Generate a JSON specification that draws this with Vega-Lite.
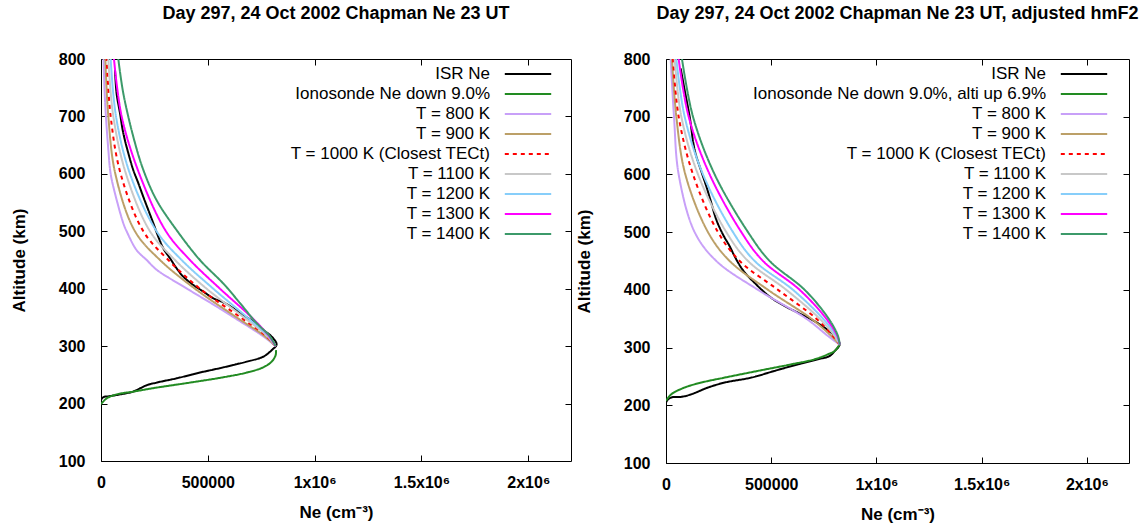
{
  "$schema": "https://vega.github.io/schema/vega-lite/v6.json",
  "padding": {"left": 9, "top": 4, "right": 0, "bottom": 0},
  "background": "white",
  "config": {
    "font": "Liberation Sans",
    "view": {"stroke": "#000", "strokeWidth": 1},
    "axis": {"grid": false, "domain": false, "tickColor": "#000", "tickSize": -6, "labelFont": "Liberation Sans", "labelFontWeight": "bold", "labelFontSize": 16, "labelColor": "#000", "titleFont": "Liberation Sans", "titleFontWeight": "bold", "titleFontSize": 17, "titleColor": "#000"},
    "title": {"font": "Liberation Sans", "fontSize": 18, "fontWeight": "bold", "color": "#000", "offset": 28},
    "legend": {"labelFont": "Liberation Sans", "labelFontSize": 17, "labelColor": "#000", "labelAlign": "right", "labelOffset": -47, "labelLimit": 600, "symbolType": "M-2.9,0L2.9,0", "symbolSize": 256, "rowPadding": 3, "padding": 0, "symbolOffset": 0}
  },
  "datasets": {
    "L": [
      {"s":"ISR Ne","ne":0,"alt":100},{"s":"ISR Ne","ne":0,"alt":206},{"s":"ISR Ne","ne":10900,"alt":211},{"s":"ISR Ne","ne":42000,"alt":213},{"s":"ISR Ne","ne":90000,"alt":216},{"s":"ISR Ne","ne":151000,"alt":221},{"s":"ISR Ne","ne":214000,"alt":232},{"s":"ISR Ne","ne":260000,"alt":236.5},{"s":"ISR Ne","ne":354000,"alt":244},{"s":"ISR Ne","ne":463000,"alt":254},{"s":"ISR Ne","ne":572600,"alt":263},{"s":"ISR Ne","ne":682000,"alt":273},{"s":"ISR Ne","ne":760000,"alt":281.7},{"s":"ISR Ne","ne":799000,"alt":293},{"s":"ISR Ne","ne":822000,"alt":303},{"s":"ISR Ne","ne":799000,"alt":316.6},{"s":"ISR Ne","ne":760000,"alt":328},{"s":"ISR Ne","ne":713000,"alt":342.7},{"s":"ISR Ne","ne":666000,"alt":354},{"s":"ISR Ne","ne":619000,"alt":366},{"s":"ISR Ne","ne":572600,"alt":376.3},{"s":"ISR Ne","ne":526000,"alt":383.3},{"s":"ISR Ne","ne":479000,"alt":395},{"s":"ISR Ne","ne":432000,"alt":406.5},{"s":"ISR Ne","ne":385000,"alt":421},{"s":"ISR Ne","ne":354000,"alt":435.5},{"s":"ISR Ne","ne":323000,"alt":453},{"s":"ISR Ne","ne":292000,"alt":470},{"s":"ISR Ne","ne":268000,"alt":490.7},{"s":"ISR Ne","ne":245000,"alt":514},{"s":"ISR Ne","ne":221500,"alt":537},{"s":"ISR Ne","ne":198000,"alt":560},{"s":"ISR Ne","ne":175000,"alt":583.5},{"s":"ISR Ne","ne":151000,"alt":606.8},{"s":"ISR Ne","ne":128000,"alt":635.8},{"s":"ISR Ne","ne":104500,"alt":670.6},{"s":"ISR Ne","ne":89000,"alt":705.4},{"s":"ISR Ne","ne":73000,"alt":740},{"s":"ISR Ne","ne":65500,"alt":781},
      {"s":"Ionosonde Ne down 9.0%","ne":0,"alt":199},{"s":"Ionosonde Ne down 9.0%","ne":26500,"alt":209},{"s":"Ionosonde Ne down 9.0%","ne":73000,"alt":216},{"s":"Ionosonde Ne down 9.0%","ne":151000,"alt":220.8},{"s":"Ionosonde Ne down 9.0%","ne":260600,"alt":227.8},{"s":"Ionosonde Ne down 9.0%","ne":416600,"alt":236.5},{"s":"Ionosonde Ne down 9.0%","ne":572600,"alt":245.8},{"s":"Ionosonde Ne down 9.0%","ne":682000,"alt":254},{"s":"Ionosonde Ne down 9.0%","ne":760000,"alt":263.2},{"s":"Ionosonde Ne down 9.0%","ne":799000,"alt":273},{"s":"Ionosonde Ne down 9.0%","ne":817600,"alt":284.6},{"s":"Ionosonde Ne down 9.0%","ne":819000,"alt":293},
      {"s":"T = 800 K","ne":12000,"alt":800},{"s":"T = 800 K","ne":18700,"alt":728},{"s":"T = 800 K","ne":34300,"alt":642},{"s":"T = 800 K","ne":45200,"alt":600},{"s":"T = 800 K","ne":65500,"alt":566},{"s":"T = 800 K","ne":104500,"alt":514},{"s":"T = 800 K","ne":120000,"alt":500},{"s":"T = 800 K","ne":167000,"alt":467},{"s":"T = 800 K","ne":213700,"alt":450},{"s":"T = 800 K","ne":260500,"alt":433},{"s":"T = 800 K","ne":385000,"alt":404},{"s":"T = 800 K","ne":541000,"alt":369},{"s":"T = 800 K","ne":622000,"alt":350},{"s":"T = 800 K","ne":760000,"alt":317},{"s":"T = 800 K","ne":817000,"alt":300},
      {"s":"T = 900 K","ne":20300,"alt":800},{"s":"T = 900 K","ne":34300,"alt":700},{"s":"T = 900 K","ne":67100,"alt":600},{"s":"T = 900 K","ne":159100,"alt":500},{"s":"T = 900 K","ne":276100,"alt":450},{"s":"T = 900 K","ne":439900,"alt":400},{"s":"T = 900 K","ne":634900,"alt":350},{"s":"T = 900 K","ne":767500,"alt":317},{"s":"T = 900 K","ne":817000,"alt":300},
      {"s":"T = 1000 K (Closest TECt)","ne":26500,"alt":800},{"s":"T = 1000 K (Closest TECt)","ne":45200,"alt":700},{"s":"T = 1000 K (Closest TECt)","ne":92000,"alt":600},{"s":"T = 1000 K (Closest TECt)","ne":198100,"alt":500},{"s":"T = 1000 K (Closest TECt)","ne":315100,"alt":450},{"s":"T = 1000 K (Closest TECt)","ne":463300,"alt":400},{"s":"T = 1000 K (Closest TECt)","ne":653600,"alt":350},{"s":"T = 1000 K (Closest TECt)","ne":775300,"alt":317},{"s":"T = 1000 K (Closest TECt)","ne":817000,"alt":300},
      {"s":"T = 1100 K","ne":34300,"alt":800},{"s":"T = 1100 K","ne":57700,"alt":700},{"s":"T = 1100 K","ne":117000,"alt":600},{"s":"T = 1100 K","ne":229300,"alt":500},{"s":"T = 1100 K","ne":346300,"alt":450},{"s":"T = 1100 K","ne":494500,"alt":400},{"s":"T = 1100 K","ne":669200,"alt":350},{"s":"T = 1100 K","ne":780000,"alt":317},{"s":"T = 1100 K","ne":817000,"alt":300},
      {"s":"T = 1200 K","ne":45200,"alt":800},{"s":"T = 1200 K","ne":70200,"alt":700},{"s":"T = 1200 K","ne":135700,"alt":600},{"s":"T = 1200 K","ne":260500,"alt":500},{"s":"T = 1200 K","ne":377500,"alt":450},{"s":"T = 1200 K","ne":525700,"alt":400},{"s":"T = 1200 K","ne":684800,"alt":350},{"s":"T = 1200 K","ne":784700,"alt":317},{"s":"T = 1200 K","ne":817000,"alt":300},
      {"s":"T = 1300 K","ne":60800,"alt":800},{"s":"T = 1300 K","ne":96700,"alt":700},{"s":"T = 1300 K","ne":179400,"alt":600},{"s":"T = 1300 K","ne":304200,"alt":500},{"s":"T = 1300 K","ne":416500,"alt":450},{"s":"T = 1300 K","ne":556900,"alt":400},{"s":"T = 1300 K","ne":705100,"alt":350},{"s":"T = 1300 K","ne":787800,"alt":317},{"s":"T = 1300 K","ne":817000,"alt":300},
      {"s":"T = 1400 K","ne":81000,"alt":800},{"s":"T = 1400 K","ne":104500,"alt":740},{"s":"T = 1400 K","ne":151000,"alt":665},{"s":"T = 1400 K","ne":198000,"alt":607},{"s":"T = 1400 K","ne":260500,"alt":554},{"s":"T = 1400 K","ne":354000,"alt":502},{"s":"T = 1400 K","ne":463000,"alt":450},{"s":"T = 1400 K","ne":572500,"alt":409},{"s":"T = 1400 K","ne":650500,"alt":375},{"s":"T = 1400 K","ne":728500,"alt":340},{"s":"T = 1400 K","ne":791000,"alt":317},{"s":"T = 1400 K","ne":817000,"alt":300}
    ],
    "R": [
      {"s":"ISR Ne","ne":0,"alt":100},{"s":"ISR Ne","ne":0,"alt":204.8},{"s":"ISR Ne","ne":25000,"alt":213.5},{"s":"ISR Ne","ne":73000,"alt":214.6},{"s":"ISR Ne","ne":120000,"alt":219},{"s":"ISR Ne","ne":200000,"alt":230.8},{"s":"ISR Ne","ne":279000,"alt":239.4},{"s":"ISR Ne","ne":405500,"alt":248},{"s":"ISR Ne","ne":516000,"alt":259.6},{"s":"ISR Ne","ne":627000,"alt":271},{"s":"ISR Ne","ne":722000,"alt":279.7},{"s":"ISR Ne","ne":778000,"alt":285.5},{"s":"ISR Ne","ne":801500,"alt":294},{"s":"ISR Ne","ne":825000,"alt":305.6},{"s":"ISR Ne","ne":801500,"alt":320},{"s":"ISR Ne","ne":754000,"alt":334.4},{"s":"ISR Ne","ne":690600,"alt":348.8},{"s":"ISR Ne","ne":627000,"alt":360.4},{"s":"ISR Ne","ne":564000,"alt":371.9},{"s":"ISR Ne","ne":500500,"alt":386},{"s":"ISR Ne","ne":453000,"alt":400.7},{"s":"ISR Ne","ne":421500,"alt":412},{"s":"ISR Ne","ne":389700,"alt":423.7},{"s":"ISR Ne","ne":358000,"alt":438},{"s":"ISR Ne","ne":326300,"alt":458},{"s":"ISR Ne","ne":302500,"alt":475.6},{"s":"ISR Ne","ne":270900,"alt":495.7},{"s":"ISR Ne","ne":239000,"alt":521.6},{"s":"ISR Ne","ne":215400,"alt":550.4},{"s":"ISR Ne","ne":191700,"alt":579.2},{"s":"ISR Ne","ne":168000,"alt":605},{"s":"ISR Ne","ne":136000,"alt":642.6},{"s":"ISR Ne","ne":112500,"alt":700},{"s":"ISR Ne","ne":88700,"alt":746},{"s":"ISR Ne","ne":69700,"alt":783.7},
      {"s":"Ionosonde Ne down 9.0%, alti up 6.9%","ne":0,"alt":207.7},{"s":"Ionosonde Ne down 9.0%, alti up 6.9%","ne":25000,"alt":219},{"s":"Ionosonde Ne down 9.0%, alti up 6.9%","ne":88700,"alt":230.8},{"s":"Ionosonde Ne down 9.0%, alti up 6.9%","ne":168000,"alt":239.4},{"s":"Ionosonde Ne down 9.0%, alti up 6.9%","ne":279000,"alt":248},{"s":"Ionosonde Ne down 9.0%, alti up 6.9%","ne":437000,"alt":259.6},{"s":"Ionosonde Ne down 9.0%, alti up 6.9%","ne":596000,"alt":271},{"s":"Ionosonde Ne down 9.0%, alti up 6.9%","ne":706000,"alt":279.7},{"s":"Ionosonde Ne down 9.0%, alti up 6.9%","ne":770000,"alt":288.4},{"s":"Ionosonde Ne down 9.0%, alti up 6.9%","ne":801500,"alt":294},{"s":"Ionosonde Ne down 9.0%, alti up 6.9%","ne":825000,"alt":305.6},
      {"s":"T = 800 K","ne":22200,"alt":800},{"s":"T = 800 K","ne":38000,"alt":700},{"s":"T = 800 K","ne":60200,"alt":600},{"s":"T = 800 K","ne":136200,"alt":500},{"s":"T = 800 K","ne":239200,"alt":450},{"s":"T = 800 K","ne":437200,"alt":400},{"s":"T = 800 K","ne":666900,"alt":350},{"s":"T = 800 K","ne":769800,"alt":320},{"s":"T = 800 K","ne":825300,"alt":305},
      {"s":"T = 900 K","ne":28500,"alt":800},{"s":"T = 900 K","ne":49100,"alt":700},{"s":"T = 900 K","ne":91900,"alt":600},{"s":"T = 900 K","ne":199600,"alt":500},{"s":"T = 900 K","ne":302500,"alt":450},{"s":"T = 900 K","ne":484700,"alt":400},{"s":"T = 900 K","ne":690600,"alt":350},{"s":"T = 900 K","ne":785700,"alt":320},{"s":"T = 900 K","ne":825300,"alt":305},
      {"s":"T = 1000 K (Closest TECt)","ne":33300,"alt":800},{"s":"T = 1000 K (Closest TECt)","ne":60200,"alt":700},{"s":"T = 1000 K (Closest TECt)","ne":128300,"alt":600},{"s":"T = 1000 K (Closest TECt)","ne":247100,"alt":500},{"s":"T = 1000 K (Closest TECt)","ne":350100,"alt":450},{"s":"T = 1000 K (Closest TECt)","ne":532200,"alt":400},{"s":"T = 1000 K (Closest TECt)","ne":714400,"alt":350},{"s":"T = 1000 K (Closest TECt)","ne":793600,"alt":320},{"s":"T = 1000 K (Closest TECt)","ne":825300,"alt":305},
      {"s":"T = 1100 K","ne":41200,"alt":800},{"s":"T = 1100 K","ne":72900,"alt":700},{"s":"T = 1100 K","ne":152100,"alt":600},{"s":"T = 1100 K","ne":286700,"alt":500},{"s":"T = 1100 K","ne":389700,"alt":450},{"s":"T = 1100 K","ne":571800,"alt":400},{"s":"T = 1100 K","ne":730200,"alt":350},{"s":"T = 1100 K","ne":801500,"alt":320},{"s":"T = 1100 K","ne":825300,"alt":305},
      {"s":"T = 1200 K","ne":49100,"alt":800},{"s":"T = 1200 K","ne":88700,"alt":700},{"s":"T = 1200 K","ne":175800,"alt":600},{"s":"T = 1200 K","ne":318400,"alt":500},{"s":"T = 1200 K","ne":421300,"alt":450},{"s":"T = 1200 K","ne":603500,"alt":400},{"s":"T = 1200 K","ne":746100,"alt":350},{"s":"T = 1200 K","ne":809400,"alt":320},{"s":"T = 1200 K","ne":825300,"alt":305},
      {"s":"T = 1300 K","ne":60200,"alt":800},{"s":"T = 1300 K","ne":107700,"alt":700},{"s":"T = 1300 K","ne":207500,"alt":600},{"s":"T = 1300 K","ne":358000,"alt":500},{"s":"T = 1300 K","ne":460900,"alt":450},{"s":"T = 1300 K","ne":635200,"alt":400},{"s":"T = 1300 K","ne":761900,"alt":350},{"s":"T = 1300 K","ne":814200,"alt":320},{"s":"T = 1300 K","ne":825300,"alt":305},
      {"s":"T = 1400 K","ne":76000,"alt":800},{"s":"T = 1400 K","ne":128300,"alt":700},{"s":"T = 1400 K","ne":231300,"alt":600},{"s":"T = 1400 K","ne":389700,"alt":500},{"s":"T = 1400 K","ne":492600,"alt":450},{"s":"T = 1400 K","ne":659000,"alt":400},{"s":"T = 1400 K","ne":773000,"alt":350},{"s":"T = 1400 K","ne":817300,"alt":320},{"s":"T = 1400 K","ne":825300,"alt":305}
    ]
  },
  "spacing": 2,
  "resolve": {"scale": {"color": "independent", "strokeDash": "independent", "strokeWidth": "independent"}, "legend": {"color": "independent", "strokeDash": "independent", "strokeWidth": "independent"}},
  "hconcat": [
    {
      "title": "Day 297, 24 Oct 2002 Chapman Ne  23 UT",
      "width": 470, "height": 402,
      "data": {"name": "L"},
      "resolve": {"scale": {"x": "independent", "y": "independent"}},
      "layer": [
        {
          "mark": {"type": "line", "clip": true, "strokeJoin": "round", "interpolate": "catmull-rom"},
          "encoding": {
            "x": {"field": "ne", "type": "quantitative", "scale": {"domain": [0, 2200000], "nice": false, "zero": false}, "axis": {"values": [0, 500000, 1000000, 1500000, 2000000], "labelExpr": "datum.value == 0 ? '0' : datum.value == 500000 ? '500000' : datum.value == 1000000 ? '1x10⁶' : datum.value == 1500000 ? '1.5x10⁶' : '2x10⁶'", "title": "Ne (cm⁻³)", "labelPadding": 19, "titlePadding": 14, "labelFlush": false, "labelOverlap": false}},
            "y": {"field": "alt", "type": "quantitative", "scale": {"domain": [100, 800], "nice": false, "zero": false}, "axis": {"values": [100, 200, 300, 400, 500, 600, 700, 800], "title": "Altitude (km)", "labelPadding": 22, "titlePadding": 30}},
            "order": {"field": "alt", "type": "quantitative"},
            "color": {"field": "s", "type": "nominal", "scale": {"domain": ["ISR Ne", "Ionosonde Ne down 9.0%", "T = 800 K", "T = 900 K", "T = 1000 K (Closest TECt)", "T = 1100 K", "T = 1200 K", "T = 1300 K", "T = 1400 K"], "range": ["#000000", "#228b22", "#c8a0f8", "#bca068", "#ff0000", "#c8c8c8", "#87cefa", "#ff00ff", "#3c9a6a"]}, "legend": {"orient": "none", "legendX": 418, "legendY": 6, "title": null}},
            "strokeDash": {"field": "s", "type": "nominal", "scale": {"domain": ["ISR Ne", "Ionosonde Ne down 9.0%", "T = 800 K", "T = 900 K", "T = 1000 K (Closest TECt)", "T = 1100 K", "T = 1200 K", "T = 1300 K", "T = 1400 K"], "range": [[1, 0], [1, 0], [1, 0], [1, 0], [4, 4], [1, 0], [1, 0], [1, 0], [1, 0]]}, "legend": {"orient": "none", "legendX": 418, "legendY": 6, "title": null}},
            "strokeWidth": {"field": "s", "type": "nominal", "scale": {"domain": ["ISR Ne", "Ionosonde Ne down 9.0%", "T = 800 K", "T = 900 K", "T = 1000 K (Closest TECt)", "T = 1100 K", "T = 1200 K", "T = 1300 K", "T = 1400 K"], "range": [2, 2, 1.2, 1.2, 2.2, 1.2, 1.2, 1.2, 1.2]}, "legend": {"orient": "none", "legendX": 418, "legendY": 6, "title": null}}
          }
        },
        {
          "mark": {"type": "point", "opacity": 0},
          "encoding": {
            "x": {"field": "ne", "type": "quantitative", "scale": {"domain": [0, 2200000], "nice": false, "zero": false}, "axis": {"orient": "top", "values": [500000, 1000000, 1500000, 2000000], "labels": false, "title": null}},
            "y": {"field": "alt", "type": "quantitative", "scale": {"domain": [100, 800], "nice": false, "zero": false}, "axis": {"orient": "right", "values": [200, 300, 400, 500, 600, 700], "labels": false, "title": null}}
          }
        }
      ]
    },
    {
      "title": "Day 297, 24 Oct 2002 Chapman Ne  23 UT, adjusted hmF2",
      "width": 463, "height": 404,
      "data": {"name": "R"},
      "resolve": {"scale": {"x": "independent", "y": "independent"}},
      "layer": [
        {
          "mark": {"type": "line", "clip": true, "strokeJoin": "round", "interpolate": "catmull-rom"},
          "encoding": {
            "x": {"field": "ne", "type": "quantitative", "scale": {"domain": [0, 2200000], "nice": false, "zero": false}, "axis": {"values": [0, 500000, 1000000, 1500000, 2000000], "labelExpr": "datum.value == 0 ? '0' : datum.value == 500000 ? '500000' : datum.value == 1000000 ? '1x10⁶' : datum.value == 1500000 ? '1.5x10⁶' : '2x10⁶'", "title": "Ne (cm⁻³)", "labelPadding": 19, "titlePadding": 14, "labelFlush": false, "labelOverlap": false}},
            "y": {"field": "alt", "type": "quantitative", "scale": {"domain": [100, 800], "nice": false, "zero": false}, "axis": {"values": [100, 200, 300, 400, 500, 600, 700, 800], "title": "Altitude (km)", "labelPadding": 22, "titlePadding": 30}},
            "order": {"field": "alt", "type": "quantitative"},
            "color": {"field": "s", "type": "nominal", "scale": {"domain": ["ISR Ne", "Ionosonde Ne down 9.0%, alti up 6.9%", "T = 800 K", "T = 900 K", "T = 1000 K (Closest TECt)", "T = 1100 K", "T = 1200 K", "T = 1300 K", "T = 1400 K"], "range": ["#000000", "#228b22", "#c8a0f8", "#bca068", "#ff0000", "#c8c8c8", "#87cefa", "#ff00ff", "#3c9a6a"]}, "legend": {"orient": "none", "legendX": 409, "legendY": 6, "title": null}},
            "strokeDash": {"field": "s", "type": "nominal", "scale": {"domain": ["ISR Ne", "Ionosonde Ne down 9.0%, alti up 6.9%", "T = 800 K", "T = 900 K", "T = 1000 K (Closest TECt)", "T = 1100 K", "T = 1200 K", "T = 1300 K", "T = 1400 K"], "range": [[1, 0], [1, 0], [1, 0], [1, 0], [4, 4], [1, 0], [1, 0], [1, 0], [1, 0]]}, "legend": {"orient": "none", "legendX": 409, "legendY": 6, "title": null}},
            "strokeWidth": {"field": "s", "type": "nominal", "scale": {"domain": ["ISR Ne", "Ionosonde Ne down 9.0%, alti up 6.9%", "T = 800 K", "T = 900 K", "T = 1000 K (Closest TECt)", "T = 1100 K", "T = 1200 K", "T = 1300 K", "T = 1400 K"], "range": [2, 2, 1.2, 1.2, 2.2, 1.2, 1.2, 1.2, 1.2]}, "legend": {"orient": "none", "legendX": 409, "legendY": 6, "title": null}}
          }
        },
        {
          "mark": {"type": "point", "opacity": 0},
          "encoding": {
            "x": {"field": "ne", "type": "quantitative", "scale": {"domain": [0, 2200000], "nice": false, "zero": false}, "axis": {"orient": "top", "values": [500000, 1000000, 1500000, 2000000], "labels": false, "title": null}},
            "y": {"field": "alt", "type": "quantitative", "scale": {"domain": [100, 800], "nice": false, "zero": false}, "axis": {"orient": "right", "values": [200, 300, 400, 500, 600, 700], "labels": false, "title": null}}
          }
        }
      ]
    }
  ]
}
